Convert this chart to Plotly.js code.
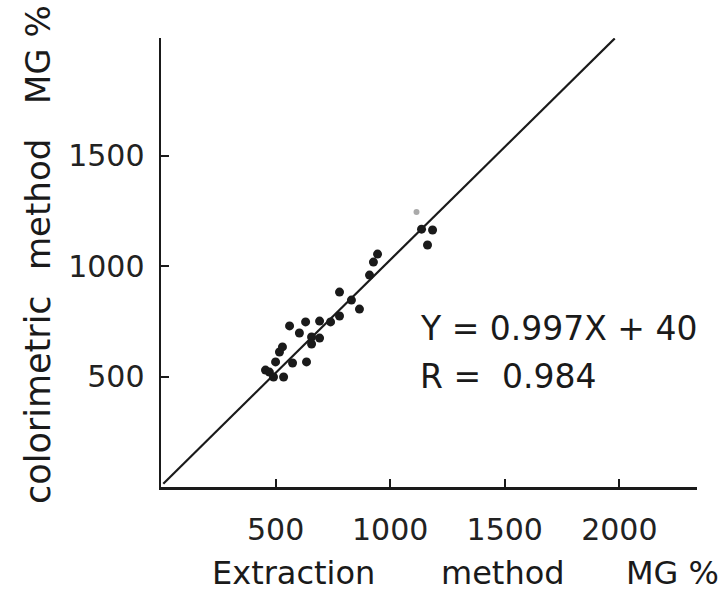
<!DOCTYPE html>
<html>
<head>
<meta charset="utf-8">
<script src="https://cdn.plot.ly/plotly-3.0.1.min.js"></script>
<style>html,body{margin:0;padding:0;background:#fff;}#chart{width:725px;height:596px;}</style>
</head>
<body>
<div id="chart"></div>
<script>
// Extraction method (x) vs colorimetric method (y), MG%
const extraction = [456, 473, 491, 535, 500, 517, 530, 574, 635, 561, 604, 631, 657, 657, 692, 692, 740, 779, 779, 831, 866, 910, 927, 945, 1137, 1185, 1163];
const colorimetric = [529, 520, 498, 498, 566, 611, 634, 561, 566, 729, 697, 747, 679, 647, 674, 751, 747, 774, 882, 846, 805, 959, 1018, 1054, 1167, 1163, 1095];
// faint (grey) marks
const faintX = [1115];
const faintY = [1244];
// regression line Y = 0.997X + 40 as drawn
const lineX = [10, 1980];
const lineY = [15, 2030];
const tickVals = [500, 1000, 1500, 2000];
const yTickVals = [500, 1000, 1500];

const FONT = "DejaVu Sans";
const INK = "#1a1a1a";

const traces = [
  {x: lineX, y: lineY, mode: "lines", line: {color: INK, width: 2.2}, hoverinfo: "skip"},
  {x: extraction, y: colorimetric, mode: "markers", marker: {color: INK, size: 9}},
  {x: faintX, y: faintY, mode: "markers", marker: {color: "#aaaaaa", size: 6}}
];

const layout = {
  width: 725, height: 596,
  margin: {l: 161, r: 28, t: 38, b: 109},
  paper_bgcolor: "#fff", plot_bgcolor: "#fff",
  showlegend: false,
  font: {family: FONT, color: INK, size: 32},
  xaxis: {
    range: [0, 2339], showgrid: false, zeroline: false,
    showline: true, linecolor: INK, linewidth: 2.5,
    tickmode: "array", tickvals: tickVals, ticktext: tickVals.map(String),
    ticks: "inside", ticklen: 8, tickwidth: 2, tickcolor: INK,
    ticklabelstandoff: 14,
    tickfont: {family: FONT, size: 30, color: "#222"}
  },
  yaxis: {
    range: [0, 2032], showgrid: false, zeroline: false,
    showline: true, linecolor: INK, linewidth: 2.5,
    tickmode: "array", tickvals: yTickVals, ticktext: yTickVals.map(String),
    ticks: "inside", ticklen: 8, tickwidth: 2, tickcolor: INK,
    ticklabelstandoff: 8,
    tickfont: {family: FONT, size: 30, color: "#222"}
  },
  annotations: [
    {xref: "paper", yref: "paper", x: (293-161)/536, y: (487-573)/449, text: "Extraction", showarrow: false, font: {size: 32}, xanchor: "center", yanchor: "middle"},
    {xref: "paper", yref: "paper", x: (503-161)/536, y: (487-573)/449, text: "method", showarrow: false, font: {size: 32}, xanchor: "center", yanchor: "middle"},
    {xref: "paper", yref: "paper", x: (672-161)/536, y: (487-573)/449, text: "MG %", showarrow: false, font: {size: 32}, xanchor: "center", yanchor: "middle"},
    {xref: "paper", yref: "paper", x: (38-161)/536, y: (487-400)/449, text: "colorimetric", textangle: -90, showarrow: false, font: {size: 35}, xanchor: "center", yanchor: "middle"},
    {xref: "paper", yref: "paper", x: (38-161)/536, y: (487-205)/449, text: "method", textangle: -90, showarrow: false, font: {size: 34}, xanchor: "center", yanchor: "middle"},
    {xref: "paper", yref: "paper", x: (38-161)/536, y: (487-55)/449, text: "MG %", textangle: -90, showarrow: false, font: {size: 34}, xanchor: "center", yanchor: "middle"},
    {xref: "paper", yref: "paper", x: (418-161)/536, y: (487-328)/449, text: "Y = 0.997X + 40", showarrow: false, font: {size: 33}, xanchor: "left", yanchor: "middle"},
    {xref: "paper", yref: "paper", x: (418-161)/536, y: (487-376)/449, text: "R =  0.984", showarrow: false, font: {size: 33}, xanchor: "left", yanchor: "middle"}
  ]
};

Plotly.newPlot("chart", traces, layout, {displayModeBar: false, staticPlot: true});
</script>
</body>
</html>
